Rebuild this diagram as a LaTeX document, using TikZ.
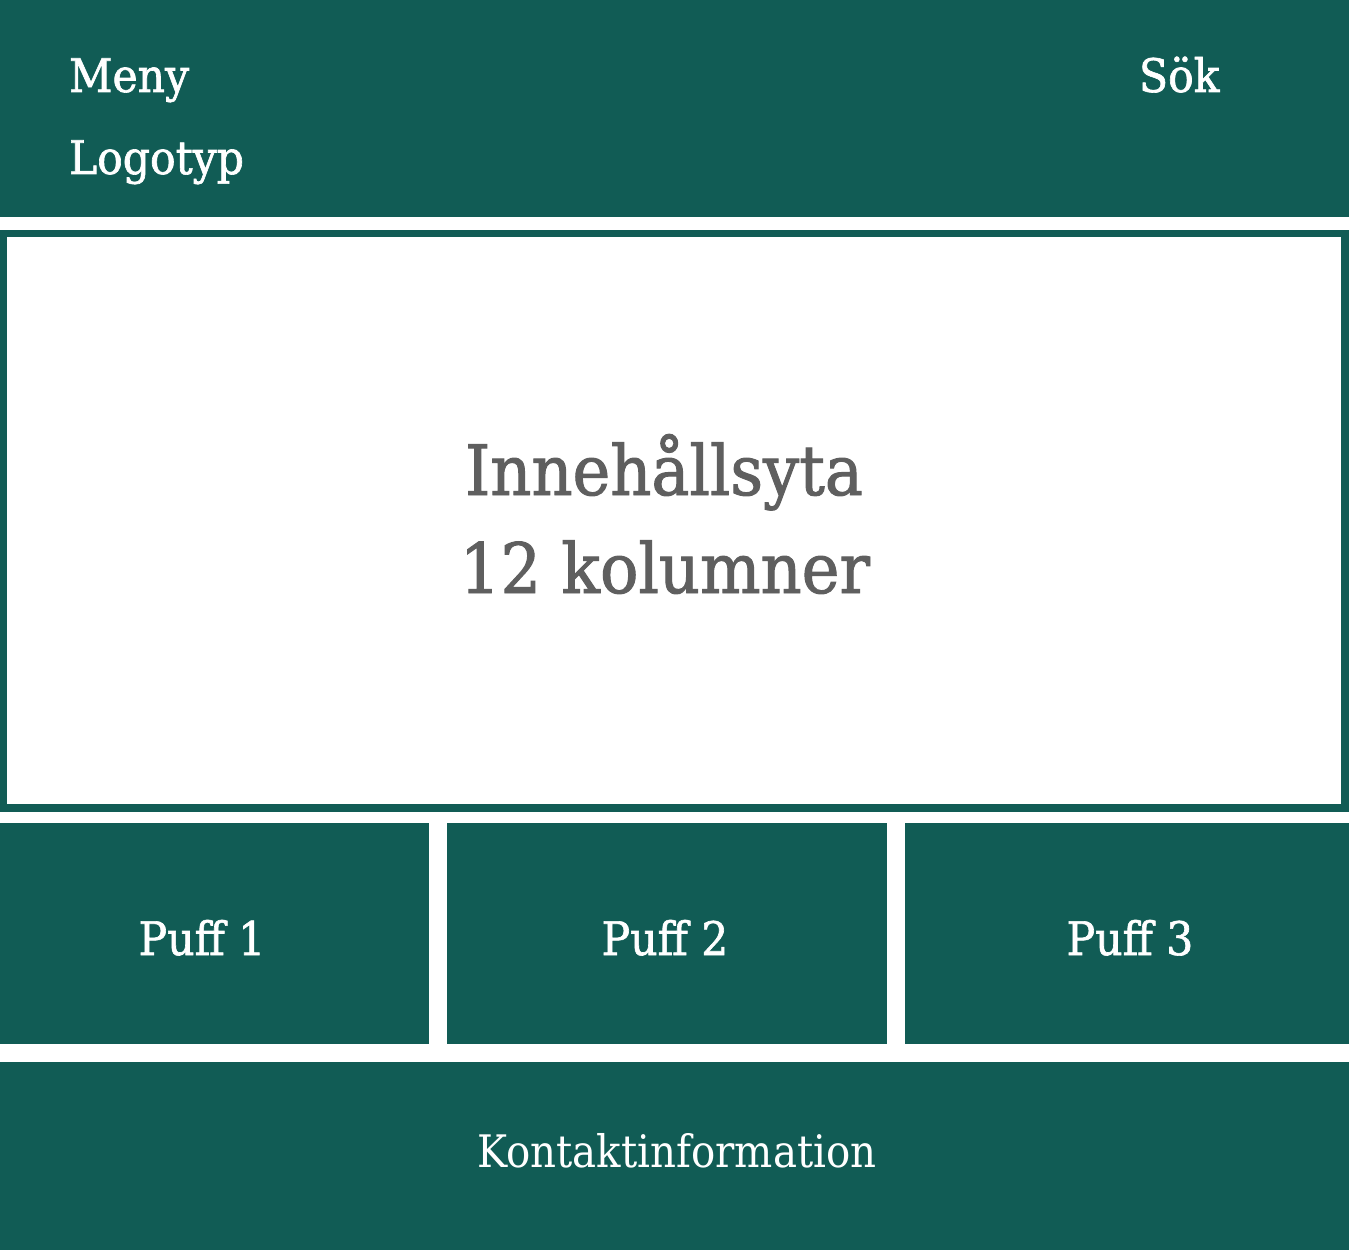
\documentclass[tikz,border=0pt]{standalone}
\usepackage{fontspec}
\setmainfont{DejaVu Serif}[FakeStretch=0.9]
\newfontfamily\tjock{DejaVu Serif}[FakeStretch=0.92, FakeBold=1.4]
\definecolor{gron}{RGB}{17,92,85}
\definecolor{gratext}{RGB}{95,95,95}

\begin{document}
\begin{tikzpicture}[
            x = 0.02cm, y = -0.02cm, % one unit = one pixel
            inner sep = 0pt,
            outer sep = 0pt
        ]

        \tikzstyle{box}=[
            fill = gron,
            anchor = north west
        ]
        \tikzstyle{yta}=[
            draw = gron,
            line width = 0.15cm,
            fill = white,
            anchor = north west
        ]
        \tikzstyle{rubrik}=[
            text = white,
            font = \tjock\fontsize{26.3}{30}\selectfont
        ]
        \tikzstyle{stor}=[
            text = gratext,
            font = \tjock\fontsize{39.5}{46}\selectfont,
            anchor = base
        ]

	\useasboundingbox (0,0) rectangle (1349,1250);

	\node[box, minimum width = 26.98cm, minimum height = 4.35cm] (topp) at (0,0) {};
	\node[yta, minimum width = 26.83cm, minimum height = 11.49cm] (innehall) at (3.75,233.75) {};
	\node[box, minimum width = 8.58cm, minimum height = 4.43cm] (puff1) at (0,822.5) {};
	\node[box, minimum width = 8.8cm, minimum height = 4.43cm] (puff2) at (447,822.5) {};
	\node[box, minimum width = 8.88cm, minimum height = 4.43cm] (puff3) at (905,822.5) {};
	\node[box, minimum width = 26.98cm, minimum height = 3.76cm] (fot) at (0,1062) {};

	\node[rubrik, anchor = base west] (meny) at (69,92) {Meny};
	\node[rubrik, anchor = base west] (logo) at (69,174) {Logotyp};
	\node[rubrik, anchor = base west] (sok) at (1139,92) {Sök};

	\node[stor] (rad1) at (664,495) {Innehållsyta};
	\node[stor] (rad2) at (665,593) {12 kolumner};

	\node[rubrik, anchor = base] (p1) at (202,955) {Puff 1};
	\node[rubrik, anchor = base] (p2) at (665,955) {Puff 2};
	\node[rubrik, anchor = base] (p3) at (1130,955) {Puff 3};
	\node[text = white, font = \fontsize{25.5}{30}\selectfont, anchor = base] (kontakt) at (677,1167) {Kontaktinformation};

    \end{tikzpicture}
\end{document}
